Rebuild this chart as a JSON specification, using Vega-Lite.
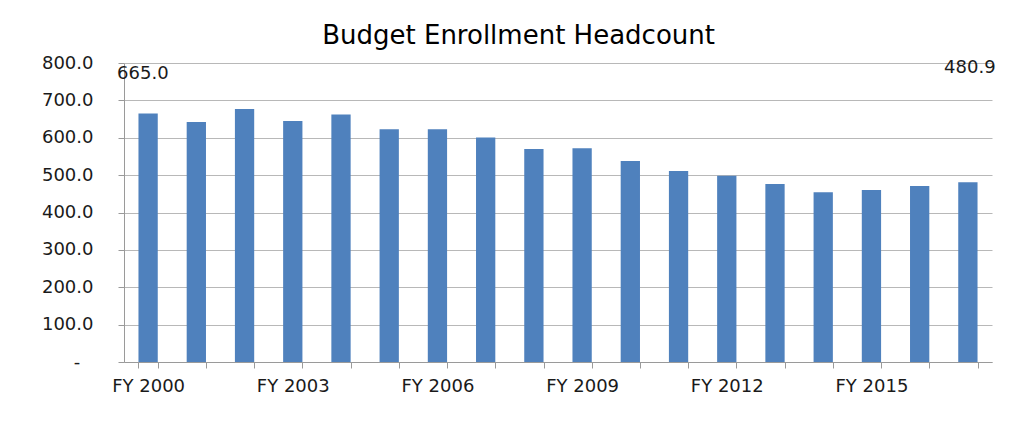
{
  "$schema": "https://vega.github.io/schema/vega-lite/v6.json",
  "width": 868,
  "height": 299,
  "autosize": {"type": "none"},
  "padding": {"left": 124, "top": 63, "right": 23, "bottom": 70},
  "background": "white",
  "config": {
    "view": {"stroke": null},
    "axisY": {
      "labelOverlap": false,
      "labelFont": "DejaVu Sans",
      "labelFontSize": 18,
      "labelColor": "#1a1a1a",
      "labelPadding": 25,
      "tickSize": 6,
      "tickColor": "#9a9a9a",
      "domainColor": "#9a9a9a",
      "grid": true,
      "gridColor": "#b8b8b8"
    }
  },
  "title": {
    "text": "Budget Enrollment Headcount",
    "font": "DejaVu Sans",
    "fontSize": 26,
    "fontWeight": "normal",
    "color": "#000000",
    "frame": "bounds",
    "anchor": "middle",
    "offset": 5
  },
  "data": {
    "values": [
      {"year": "FY 2000", "headcount": 665.0},
      {"year": "FY 2001", "headcount": 642.0},
      {"year": "FY 2002", "headcount": 677.0},
      {"year": "FY 2003", "headcount": 645.0},
      {"year": "FY 2004", "headcount": 662.0},
      {"year": "FY 2005", "headcount": 623.0},
      {"year": "FY 2006", "headcount": 623.0},
      {"year": "FY 2007", "headcount": 601.0},
      {"year": "FY 2008", "headcount": 570.0},
      {"year": "FY 2009", "headcount": 572.0},
      {"year": "FY 2010", "headcount": 538.0},
      {"year": "FY 2011", "headcount": 511.0},
      {"year": "FY 2012", "headcount": 498.0},
      {"year": "FY 2013", "headcount": 476.0},
      {"year": "FY 2014", "headcount": 454.0},
      {"year": "FY 2015", "headcount": 460.0},
      {"year": "FY 2016", "headcount": 471.0},
      {"year": "FY 2017", "headcount": 480.9}
    ]
  },
  "layer": [
    {
      "mark": {"type": "bar", "color": "#4F81BD"},
      "encoding": {
        "x": {
          "field": "year",
          "type": "nominal",
          "sort": null,
          "scale": {"paddingInner": 0.6, "paddingOuter": 0.3},
          "axis": {
            "title": null,
            "labelAngle": 0,
            "labelOverlap": false,
            "labelExpr": "indexof(['FY 2000','FY 2003','FY 2006','FY 2009','FY 2012','FY 2015'], datum.value) >= 0 ? datum.value : ''",
            "labelFont": "DejaVu Sans",
            "labelFontSize": 18,
            "labelColor": "#1a1a1a",
            "labelPadding": 9,
            "tickBand": "extent",
            "tickSize": 6,
            "tickColor": "#9a9a9a",
            "domainColor": "#9a9a9a",
            "grid": false
          }
        },
        "y": {
          "field": "headcount",
          "type": "quantitative",
          "scale": {"domain": [0, 800]},
          "axis": {
            "title": null,
            "values": [0, 100, 200, 300, 400, 500, 600, 700, 800],
            "labelExpr": "datum.value == 0 ? '-\u2800' : format(datum.value, '.1f')"
          }
        }
      }
    },
    {
      "transform": [{"filter": "datum.year == 'FY 2000'"}],
      "mark": {"type": "text", "align": "left", "baseline": "middle", "dx": -31, "font": "DejaVu Sans", "fontSize": 18, "color": "#1a1a1a"},
      "encoding": {
        "x": {"field": "year", "type": "nominal", "sort": null},
        "y": {
          "datum": 771,
          "type": "quantitative",
          "scale": {"domain": [0, 800]},
          "axis": {
            "title": null,
            "values": [0, 100, 200, 300, 400, 500, 600, 700, 800],
            "labelExpr": "datum.value == 0 ? '-\u2800' : format(datum.value, '.1f')"
          }
        },
        "text": {"field": "headcount", "type": "quantitative", "format": ".1f"}
      }
    },
    {
      "transform": [{"filter": "datum.year == 'FY 2017'"}],
      "mark": {"type": "text", "align": "center", "baseline": "middle", "dx": 2, "font": "DejaVu Sans", "fontSize": 18, "color": "#1a1a1a"},
      "encoding": {
        "x": {"field": "year", "type": "nominal", "sort": null},
        "y": {
          "datum": 786,
          "type": "quantitative",
          "scale": {"domain": [0, 800]},
          "axis": {
            "title": null,
            "values": [0, 100, 200, 300, 400, 500, 600, 700, 800],
            "labelExpr": "datum.value == 0 ? '-\u2800' : format(datum.value, '.1f')"
          }
        },
        "text": {"field": "headcount", "type": "quantitative", "format": ".1f"}
      }
    }
  ]
}
